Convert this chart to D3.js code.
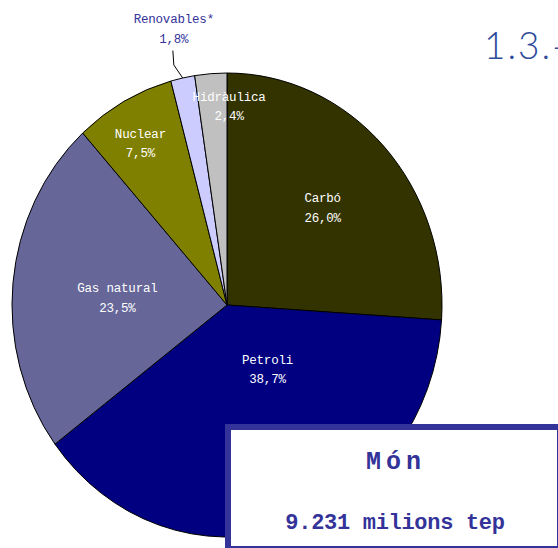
<!DOCTYPE html>
<html>
<head>
<meta charset="utf-8">
<script src="https://cdn.jsdelivr.net/npm/d3@7"></script>
<style>
  body { margin: 0; background: #fff; }
  svg { display: block; }
</style>
</head>
<body>
<div id="chart"></div>
<script>
// dades del gràfic (consum mundial d'energia primària, %)
var fonts   = ["Carbó", "Petroli", "Gas natural", "Nuclear", "Renovables*", "Hidràulica"];
var valors  = [26.0, 38.7, 23.5, 7.5, 1.8, 2.4];
var etiquetes = ["26,0%", "38,7%", "23,5%", "7,5%", "1,8%", "2,4%"];
var colors  = ["#333300", "#000080", "#666699", "#808000", "#ccccff", "#c0c0c0"];
var titol   = "1.3.-";
var caixaLinies = ["Món", "9.231 milions tep"];

var width = 558, height = 548;
var cx = 227, cy = 305,
    rx = 215, ry = 232; // el pastís surt una mica allargat

// on va cada etiqueta: fracció del radi i desplaçament d'angle (graus)
var llocEtiq = [[0.60, 1], [0.35, -16], [0.51, -4], [0.79, -2], [1.20, 0], [0.84, 5]];

var svg = d3.select("#chart").append("svg")
  .attr("width", width)
  .attr("height", height);

var pie = d3.pie().sort(null).value(function(d){ return d; });
var arcs = pie(valors);

var arc = d3.arc().innerRadius(0).outerRadius(rx);

var g = svg.append("g")
  .attr("transform", "translate(" + cx + "," + cy + ") scale(1," + (ry / rx) + ")");

g.selectAll("path")
  .data(arcs)
  .enter()
  .append("path")
  .attr("d", arc)
  .attr("fill", function(d, i){ return colors[i]; })
  .attr("stroke", "#000")
  .attr("stroke-width", 1)
  .attr("vector-effect", "non-scaling-stroke");

// punt sobre l'el·lipse per a un angle (radians, 0 = dalt) i una fracció del radi
function punt(a, k) {
  return [cx + Math.sin(a) * rx * k, cy - Math.cos(a) * ry * k];
}

var etiq = svg.selectAll("g.etiq")
  .data(arcs)
  .enter()
  .append("g")
  .attr("class", "etiq")
  .each(function(d, i){
    var mig = (d.startAngle + d.endAngle) / 2;
    var p = punt(mig + llocEtiq[i][1] * Math.PI / 180, llocEtiq[i][0]);
    d.lx = p[0]; d.ly = p[1]; d.mig = mig;
  });

var fora = function(i){ return llocEtiq[i][0] > 1; };

etiq.append("text")
  .attr("x", function(d){ return d.lx; })
  .attr("y", function(d){ return d.ly - 9.5; })
  .text(function(d, i){ return fonts[i]; });

etiq.append("text")
  .attr("x", function(d){ return d.lx; })
  .attr("y", function(d){ return d.ly + 10; })
  .text(function(d, i){ return etiquetes[i]; });

etiq.selectAll("text")
  .attr("text-anchor", "middle")
  .style("font-family", "'Liberation Mono', 'Courier New', monospace")
  .style("font-size", "12.5px")
  .style("letter-spacing", "-0.2px");

etiq.each(function(d, i){
  d3.select(this).selectAll("text").attr("fill", fora(i) ? "#333399" : "#fff");
});

// línia guia per a l'etiqueta de fora (renovables)
etiq.filter(function(d, i){ return fora(i); })
  .append("polyline")
  .attr("points", function(d){
    var e = punt(d.mig, 1);
    return [e, [d.lx, e[1] - 13], [d.lx - 1, d.ly + 18]].map(function(q){ return q.join(","); }).join(" ");
  })
  .attr("fill", "none")
  .attr("stroke", "#000")
  .attr("stroke-width", 1);

// títol (al original surt tallat a la dreta)
svg.append("text")
  .attr("x", 484)
  .attr("y", 59)
  .text(titol)
  .attr("fill", "#2f4b9b")
  .style("font-family", "Lato, 'DejaVu Sans', sans-serif")
  .style("font-weight", "300")
  .style("font-size", "37px")
  .style("letter-spacing", "2px");

// caixa del total mundial
svg.append("rect")
  .attr("x", 225).attr("y", 424)
  .attr("width", 345).attr("height", 130)
  .attr("fill", "#333399");
svg.append("rect")
  .attr("x", 231).attr("y", 430)
  .attr("width", 326).attr("height", 116)
  .attr("fill", "#fff");

svg.append("text")
  .attr("x", 396).attr("y", 469)
  .attr("text-anchor", "middle")
  .text(caixaLinies[0])
  .attr("fill", "#333399")
  .style("font-family", "'Liberation Mono', 'Courier New', monospace")
  .style("font-weight", "bold")
  .style("font-size", "25px")
  .style("letter-spacing", "5px");

svg.append("text")
  .attr("x", 395).attr("y", 529)
  .attr("text-anchor", "middle")
  .text(caixaLinies[1])
  .attr("fill", "#333399")
  .style("font-family", "'Liberation Mono', 'Courier New', monospace")
  .style("font-weight", "bold")
  .style("font-size", "22px")
  .style("letter-spacing", "-0.3px");
</script>
</body>
</html>
